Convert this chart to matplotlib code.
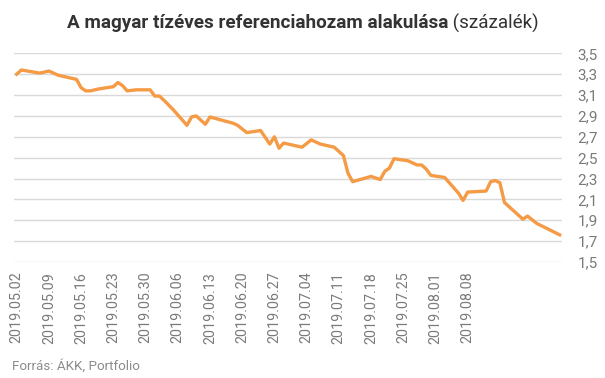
import numpy as np
import pandas as pd
import matplotlib
matplotlib.use('Agg')
import matplotlib.pyplot as plt
import matplotlib.dates as mdates

# Data (yield in %)
dates = ['2019-05-02', '2019-05-03', '2019-05-07', '2019-05-09', '2019-05-11', '2019-05-15',
         '2019-05-16', '2019-05-17', '2019-05-18', '2019-05-20', '2019-05-23', '2019-05-24',
         '2019-05-25', '2019-05-26', '2019-05-28', '2019-05-31', '2019-06-01', '2019-06-02',
         '2019-06-03', '2019-06-05', '2019-06-08', '2019-06-09', '2019-06-10', '2019-06-12',
         '2019-06-13', '2019-06-18', '2019-06-19', '2019-06-21', '2019-06-24', '2019-06-26',
         '2019-06-27', '2019-06-28', '2019-06-29', '2019-07-03', '2019-07-05', '2019-07-07',
         '2019-07-10', '2019-07-12', '2019-07-13', '2019-07-14', '2019-07-18', '2019-07-20',
         '2019-07-21', '2019-07-22', '2019-07-23', '2019-07-26', '2019-07-28', '2019-07-29',
         '2019-07-30', '2019-07-31', '2019-08-03', '2019-08-06', '2019-08-07', '2019-08-08',
         '2019-08-12', '2019-08-13', '2019-08-14', '2019-08-15', '2019-08-16', '2019-08-20',
         '2019-08-21', '2019-08-23', '2019-08-28']
yields = [3.30, 3.34, 3.31, 3.33, 3.29, 3.25, 3.17, 3.14, 3.14, 3.16, 3.18, 3.22,
          3.19, 3.14, 3.15, 3.15, 3.09, 3.09, 3.05, 2.96, 2.81, 2.89, 2.90, 2.82,
          2.89, 2.83, 2.81, 2.74, 2.76, 2.63, 2.70, 2.59, 2.64, 2.60, 2.67, 2.63,
          2.60, 2.52, 2.35, 2.27, 2.32, 2.29, 2.37, 2.40, 2.49, 2.47, 2.43, 2.43,
          2.39, 2.33, 2.31, 2.16, 2.09, 2.17, 2.18, 2.27, 2.28, 2.26, 2.07, 1.91,
          1.94, 1.87, 1.76]
tick_dates = pd.date_range('2019-05-02', '2019-08-08', freq='7D')
y_ticks = [1.5, 1.7, 1.9, 2.1, 2.3, 2.5, 2.7, 2.9, 3.1, 3.3, 3.5]

plt.rcParams['font.family'] = ['Roboto', 'DejaVu Sans']

fig = plt.figure(figsize=(6.05, 3.78), dpi=100)
ax = fig.add_axes([14 / 605, 1 - 262 / 378, 548 / 605, (262 - 53.3) / 378])

x = pd.to_datetime(dates)
ax.plot(x, yields, color='#f59a45', linewidth=2.4, solid_joinstyle='round', zorder=3)

x0 = mdates.date2num(pd.Timestamp('2019-05-02'))
ax.set_xlim(x0 - 0.59, x0 + 118.5)
ax.set_ylim(1.5, 3.5)

ax.set_yticks(y_ticks)
ax.set_yticklabels([f'{v:.1f}'.replace('.', ',') for v in y_ticks])
ax.yaxis.tick_right()
ax.set_xticks(tick_dates)
ax.set_xticklabels([d.strftime('%Y.%m.%d') for d in tick_dates], rotation=90)

ax.tick_params(axis='y', length=0, pad=11, labelsize=11, labelcolor='#7a7a7a')
ax.tick_params(axis='x', length=0, pad=7, labelsize=10.3, labelcolor='#7a7a7a')
ax.grid(axis='y', color='#d9d9d9', linewidth=1)
ax.set_axisbelow(True)
for s in ax.spines.values():
    s.set_visible(False)

# title: bold part + regular part, centred together
fig.canvas.draw()
r = fig.canvas.get_renderer()
t1 = fig.text(0, 0, 'A magyar tízéves referenciahozam alakulása', fontsize=13.6,
              fontweight='bold', color='#333333', va='center')
t2 = fig.text(0, 0, ' (százalék)', fontsize=13.6, color='#333333', va='center')
w1 = t1.get_window_extent(r).width
w2 = t2.get_window_extent(r).width
xl = (303 - (w1 + w2) / 2) / 605
yt = 1 - 23 / 378
t1.set_position((xl, yt))
t2.set_position((xl + w1 / 605, yt))

fig.text(12 / 605, 1 - 366 / 378, 'Forrás: ÁKK, Portfolio', fontsize=9.6,
         color='#8a8a8a', va='center')

fig.savefig('out.png', dpi=100)
